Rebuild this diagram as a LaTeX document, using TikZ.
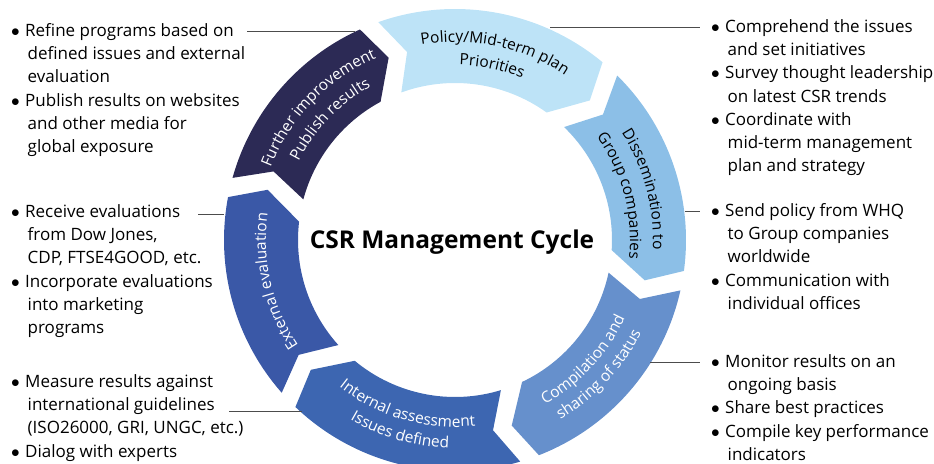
\documentclass[tikz,border=0pt]{standalone}
\usepackage{fontspec}
\setmainfont{Open Sans}
\usetikzlibrary{decorations.text}

\definecolor{policyblue}{HTML}{BDE3F7}
\definecolor{dissblue}{HTML}{8CBFE7}
\definecolor{compblue}{HTML}{6690CC}
\definecolor{intblue}{HTML}{3D66B1}
\definecolor{extblue}{HTML}{3A58A7}
\definecolor{furthernavy}{HTML}{2C2A55}

\newcommand{\segfont}{\fontsize{15.5}{18}\selectfont}
\newcommand{\bul}{\makebox[14pt][l]{$\bullet$}}
\newcommand{\ind}{\hspace*{16.5pt}}

\begin{document}
\begin{tikzpicture}[x=1pt,y=1pt,
  notes/.style={anchor=base west, align=left, inner sep=0pt, font=\fontsize{17}{23.2}\selectfont},
  leader/.style={draw=black!70, line width=1pt}]
\useasboundingbox (0,0) rectangle (934,463);

\begin{scope}[shift={(455,223)}]
% arrow segments, clockwise
\fill[policyblue] (109.4:231) arc[start angle=109.4, end angle=50.3, radius=231] -- (46:194) -- (54.3:157) arc[start angle=54.3, end angle=110, radius=157] -- (104.3:194) -- cycle;
\fill[dissblue] (45.4:231) arc[start angle=45.4, end angle=-7.7, radius=231] -- (-12:194) -- (-3.7:157) arc[start angle=-3.7, end angle=46, radius=157] -- (40.3:194) -- cycle;
\fill[compblue] (-12.6:231) arc[start angle=-12.6, end angle=-68.7, radius=231] -- (-73:194) -- (-64.7:157) arc[start angle=-64.7, end angle=-12, radius=157] -- (-17.7:194) -- cycle;
\fill[intblue] (-73.6:231) arc[start angle=-73.6, end angle=-133.7, radius=231] -- (-138:194) -- (-129.7:157) arc[start angle=-129.7, end angle=-73, radius=157] -- (-78.7:194) -- cycle;
\fill[extblue] (-138.6:231) arc[start angle=-138.6, end angle=-190.7, radius=231] -- (-195:194) -- (-186.7:157) arc[start angle=-186.7, end angle=-138, radius=157] -- (-143.7:194) -- cycle;
\fill[furthernavy] (164.4:231) arc[start angle=164.4, end angle=114.3, radius=231] -- (110:194) -- (118.3:157) arc[start angle=118.3, end angle=165, radius=157] -- (159.3:194) -- cycle;

% labels on the arcs
\path[decorate, decoration={text along path, text align=center, text={|\segfont|Policy/Mid-term plan}}] (113:198) arc[start angle=113, end angle=43, radius=198];
\path[decorate, decoration={text along path, text align=center, text={|\segfont|Priorities}}] (113:175) arc[start angle=113, end angle=43, radius=175];
\path[decorate, decoration={text along path, text align=center, text={|\segfont|Dissemination to}}] (50:198) arc[start angle=50, end angle=-20, radius=198];
\path[decorate, decoration={text along path, text align=center, text={|\segfont|Group companies}}] (50:175) arc[start angle=50, end angle=-20, radius=175];
\path[decorate, decoration={text along path, text align=center, text={|\segfont\color{white}|Compilation and}}] (-78:187) arc[start angle=-78, end angle=-8, radius=187];
\path[decorate, decoration={text along path, text align=center, text={|\segfont\color{white}|sharing of status}}] (-78:208) arc[start angle=-78, end angle=-8, radius=208];
\path[decorate, decoration={text along path, text align=center, text={|\segfont\color{white}|Internal assessment}}] (-141:187) arc[start angle=-141, end angle=-71, radius=187];
\path[decorate, decoration={text along path, text align=center, text={|\segfont\color{white}|Issues defined}}] (-141:208) arc[start angle=-141, end angle=-71, radius=208];
\path[decorate, decoration={text along path, text align=center, text={|\segfont\color{white}|External evaluation}}] (228:189) arc[start angle=228, end angle=158, radius=189];
\path[decorate, decoration={text along path, text align=center, text={|\segfont\color{white}|Further improvement}}] (171:198) arc[start angle=171, end angle=101, radius=198];
\path[decorate, decoration={text along path, text align=center, text={|\segfont\color{white}|Publish results}}] (171:175) arc[start angle=171, end angle=101, radius=175];
\end{scope}

\node[anchor=base, font=\bfseries\fontsize{24.5}{28}\selectfont] (title) at (452,214.5) {CSR Management Cycle};

% notes (base = last line)
\node[notes] (further-notes) at (11,310.5) {\bul Refine programs based on\\ \ind defined issues and external\\ \ind evaluation\\ \bul Publish results on websites\\ \ind and other media for\\ \ind global exposure};
\node[notes] (ext-notes) at (11,129.5) {\bul Receive evaluations\\ \ind from Dow Jones,\\ \ind CDP, FTSE4GOOD, etc.\\ \bul Incorporate evaluations\\ \ind into marketing\\ \ind programs};
\node[notes] (int-notes) at (11,5.9) {\bul Measure results against\\ \ind international guidelines\\ \ind (ISO26000, GRI, UNGC, etc.)\\ \bul Dialog with experts};
\node[notes] (policy-notes) at (711,291.3) {\bul Comprehend the issues\\ \ind and set initiatives\\ \bul Survey thought leadership\\ \ind on latest CSR trends\\ \bul Coordinate with\\ \ind mid-term management\\ \ind plan and strategy};
\node[notes] (diss-notes) at (711,153.7) {\bul Send policy from WHQ\\ \ind to Group companies\\ \ind worldwide\\ \bul Communication with\\ \ind individual offices};
\node[notes] (comp-notes) at (711,2.7) {\bul Monitor results on an\\ \ind ongoing basis\\ \bul Share best practices\\ \bul Compile key performance\\ \ind indicators};

% leader lines
\coordinate (further-a) at (247,431);
\coordinate (further-b) at (355,431);
\coordinate (policy-a) at (550,435);
\coordinate (policy-b) at (700,435);
\coordinate (ext-a) at (198,248);
\coordinate (ext-b) at (224,248);
\coordinate (diss-a) at (685,251);
\coordinate (diss-b) at (700,251);
\coordinate (comp-a) at (650,100);
\coordinate (comp-b) at (700,100);
\coordinate (int-a) at (229,51);
\coordinate (int-b) at (302,51);
\draw[leader] (further-a) -- (further-b);
\draw[leader] (policy-a) -- (policy-b);
\draw[leader] (ext-a) -- (ext-b);
\draw[leader] (diss-a) -- (diss-b);
\draw[leader] (comp-a) -- (comp-b);
\draw[leader] (int-a) -- (int-b);
\end{tikzpicture}
\end{document}
